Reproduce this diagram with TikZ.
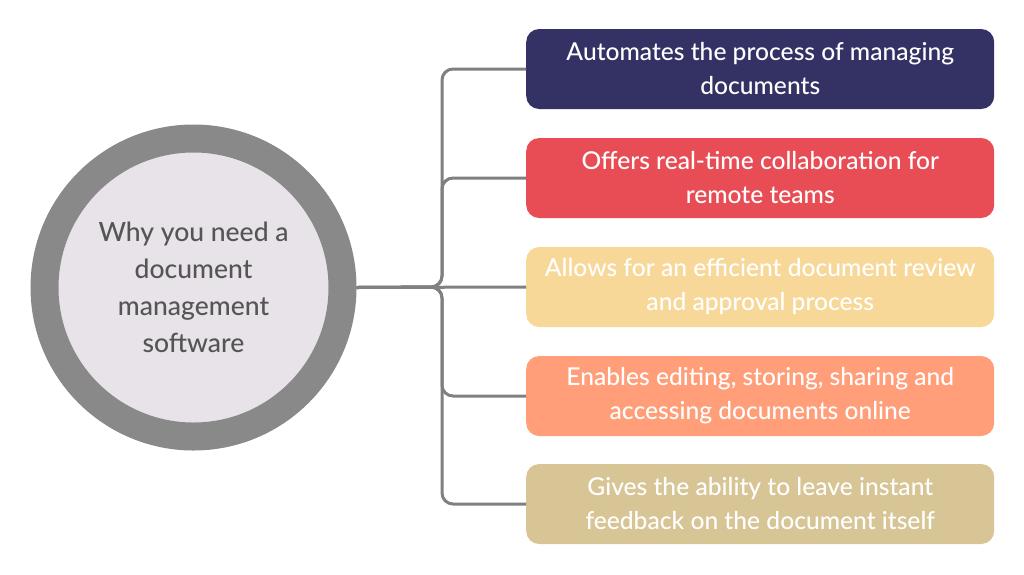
\documentclass[tikz,border=0pt]{standalone}
\usepackage{fontspec}
\setmainfont{Lato}[UprightFont={* Medium}]
\definecolor{ringgray}{HTML}{898989}
\definecolor{innerfill}{HTML}{E8E3E8}
\definecolor{circtext}{HTML}{555555}
\definecolor{conngray}{HTML}{808080}
\definecolor{cnavy}{HTML}{343264}
\definecolor{cred}{HTML}{E84C55}
\definecolor{cyellow}{HTML}{F8D899}
\definecolor{csalmon}{HTML}{FF9E78}
\definecolor{ctan}{HTML}{D8C596}
\begin{document}
\begin{tikzpicture}[x=1pt,y=-1pt,
  itembox/.style={rounded corners=13pt, minimum width=468pt, minimum height=80pt, inner sep=0pt, text=white, align=center, font=\fontsize{24.6}{34}\selectfont},
  conn/.style={draw=conngray, line width=3pt, rounded corners=11pt},
  hub/.style={circle, fill=innerfill, draw=ringgray, line width=28pt, minimum size=298pt, inner sep=0pt, text=circtext, align=center, font=\fontsize{26.5}{37}\selectfont}]
\useasboundingbox (0,0) rectangle (1024,574);
\node[hub] (c) at (193.5,287.5) {Why you need a\\document\\management\\software};
\node[itembox, fill=cnavy, anchor=west] (b1) at (526,69) {Automates the process of managing\\documents};
\node[itembox, fill=cred, anchor=west] (b2) at (526,178) {Offers real-time collaboration for\\remote teams};
\node[itembox, fill=cyellow, anchor=west] (b3) at (526,287) {Allows for an efficient document review\\and approval process};
\node[itembox, fill=csalmon, anchor=west] (b4) at (526,396) {Enables editing, storing, sharing and\\accessing documents online};
\node[itembox, fill=ctan, anchor=west] (b5) at (526,504) {Gives the ability to leave instant\\feedback on the document itself};
\coordinate (j) at (442,287);
\draw[conn] (c.east) -- (b3.west);
\draw[conn] (c.east) -- (j) |- (b1.west);
\draw[conn] (c.east) -- (j) |- (b2.west);
\draw[conn] (c.east) -- (j) |- (b4.west);
\draw[conn] (c.east) -- (j) |- (b5.west);
\end{tikzpicture}
\end{document}
